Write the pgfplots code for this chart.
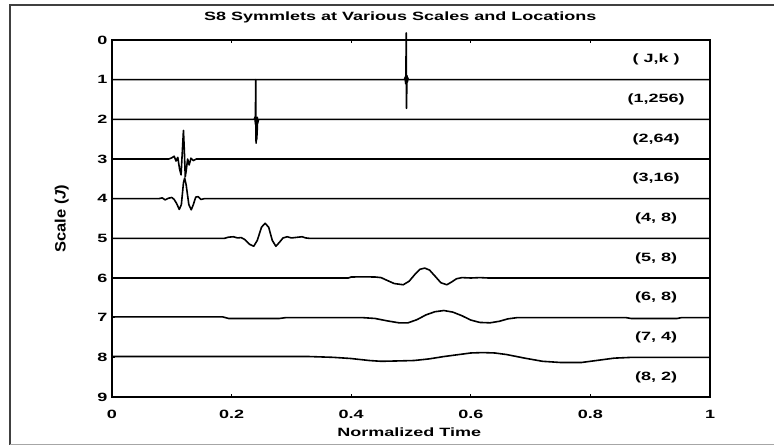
\documentclass[border=0pt]{standalone}
\usepackage{fontspec}
\setmainfont{Liberation Sans}[FakeStretch=1.5]
\newfontfamily\plainfont{Liberation Sans}[FakeStretch=1.1]
\usepackage{pgfplots}
\pgfplotsset{compat=1.18}
\usepackage{pgfplotstable}

% labels on the right, one per scale
\pgfplotstableread{
x y lab
0.91 0.5 {( J,k )}
0.91 1.5 {(1,256)}
0.91 2.5 {(2,64)}
0.91 3.5 {(3,16)}
0.91 4.5 {(4, 8)}
0.91 5.5 {(5, 8)}
0.91 6.5 {(6, 8)}
0.91 7.5 {(7, 4)}
0.91 8.5 {(8, 2)}
}\labtab

\begin{document}
\begin{tikzpicture}
\useasboundingbox (0pt,0pt) rectangle (774pt,447pt);
\draw[black!75, line width=1.3pt] (774pt,442pt) -- (10pt,442pt) -- (10pt,2pt);
\draw[black!35, line width=1pt] (10pt,2pt) -- (774pt,2pt);
\begin{axis}[
  at={(112pt,50pt)}, anchor=south west,
  scale only axis, width=598pt, height=357pt,
  xmin=0, xmax=1, ymin=0, ymax=9, y dir=reverse,
  xtick={0,0.2,0.4,0.6,0.8,1},
  ytick={0,1,2,3,4,5,6,7,8,9},
  tick align=inside, major tick length=3pt,
  tick style={black, line width=0.9pt},
  axis line style={line width=1.5pt},
  clip=false,
  /pgf/number format/assume math mode=true,
  tick label style={font=\fontsize{12}{14}\selectfont\bfseries},
  xticklabel style={anchor=base, yshift=-21pt},
  yticklabel style={xshift=-1pt},
  title={S8 Symmlets at Various Scales and Locations},
  title style={font=\fontsize{12}{14}\selectfont\bfseries, at={(axis description cs:0.482,1)}, anchor=base, yshift=14pt},
  xlabel={Normalized Time},
  xlabel style={font=\fontsize{12}{14}\selectfont\bfseries, at={(axis description cs:0.497,0)}, anchor=base, yshift=-39pt},
  ylabel={\plainfont\fontsize{15}{17}\selectfont\bfseries Scale ({\itshape J})},
  ylabel style={at={(axis description cs:-0.084,0.5)}, rotate=0, anchor=center},
]
% J = 1
\addplot[black, line width=1.6pt, line join=round] coordinates {
(0,1) (0.489,1) (0.4905,0.93) (0.491,1.1) (0.4915,0.86) (0.492,-0.18)
(0.4925,1.72) (0.493,1.12) (0.4935,0.9) (0.494,1.06) (0.4945,0.95) (0.4955,1) (1,1)};
% J = 2
\addplot[black, line width=1.6pt, line join=round] coordinates {
(0,2) (0.238,2) (0.2392,1.94) (0.2398,2.12) (0.2403,1.0) (0.2409,2.6)
(0.2412,2.05) (0.2415,2.55) (0.2418,2.0) (0.2421,2.5) (0.2424,2.05)
(0.2427,2.4) (0.2431,1.95) (0.2436,2.1) (0.245,2) (1,2)};
% J = 3
\addplot[black, line width=1.6pt, line join=round] coordinates {
(0,3) (0.095,3) (0.100,2.97) (0.104,2.93) (0.107,3.05) (0.110,2.96)
(0.113,3.25) (0.1155,3.4) (0.118,2.7) (0.1195,2.28) (0.121,2.8)
(0.1225,3.45) (0.124,3.3) (0.1265,3.0) (0.129,3.15) (0.132,2.98)
(0.136,3.04) (0.141,3.0) (0.146,3.0) (1,3)};
% J = 4
\addplot[black, line width=1.6pt, line join=round] coordinates {
(0,4) (0.078,4) (0.084,3.98) (0.089,4.03) (0.094,3.99) (0.100,3.97)
(0.104,4.02) (0.108,4.12) (0.1125,4.27) (0.116,4.15) (0.1195,3.6)
(0.1215,3.48) (0.124,3.65) (0.1285,4.15) (0.1325,4.28) (0.136,4.15)
(0.140,3.96) (0.144,3.95) (0.149,4.02) (0.154,4.0) (0.160,4.0) (1,4)};
% J = 5
\addplot[black, line width=1.6pt, line join=round] coordinates {
(0,5) (0.188,5) (0.195,4.97) (0.203,4.96) (0.210,4.99) (0.216,4.98)
(0.222,5.03) (0.230,5.15) (0.237,5.2) (0.243,5.05) (0.250,4.72)
(0.256,4.62) (0.262,4.72) (0.268,5.05) (0.274,5.2) (0.280,5.1)
(0.286,4.99) (0.293,4.96) (0.300,4.99) (0.306,4.98) (0.312,4.97)
(0.318,4.96) (0.324,4.99) (0.330,5.0) (1,5)};
% J = 6
\addplot[black, line width=1.6pt, line join=round] coordinates {
(0,6) (0.395,6) (0.400,5.975) (0.420,5.97) (0.440,5.975) (0.450,5.99)
(0.460,6.06) (0.472,6.14) (0.487,6.17) (0.497,6.08) (0.507,5.9)
(0.515,5.78) (0.523,5.75) (0.531,5.8) (0.540,5.95) (0.550,6.12)
(0.560,6.17) (0.568,6.1) (0.576,6.02) (0.585,5.99) (0.600,6.0)
(0.615,5.99) (0.630,6.0) (1,6)};
% J = 7
\addplot[black, line width=1.6pt, line join=round] coordinates {
(0,6.98) (0.185,6.98) (0.195,7.02) (0.280,7.02) (0.290,7.0) (0.420,7.0)
(0.440,7.02) (0.460,7.08) (0.480,7.13) (0.495,7.13) (0.510,7.05)
(0.525,6.93) (0.540,6.85) (0.555,6.82) (0.570,6.86) (0.585,6.95)
(0.600,7.06) (0.615,7.12) (0.632,7.13) (0.648,7.09) (0.662,7.03)
(0.677,7.0) (0.860,7.0) (0.868,7.02) (0.945,7.02) (0.952,7.0) (1,7.0)};
% J = 8
\addplot[black, line width=1.6pt, line join=round] coordinates {
(0,7.98) (0.330,7.98) (0.370,8.0) (0.400,8.03) (0.430,8.08) (0.450,8.1)
(0.480,8.09) (0.505,8.08) (0.530,8.04) (0.555,7.98) (0.580,7.93)
(0.600,7.89) (0.620,7.88) (0.640,7.89) (0.660,7.93) (0.690,8.02)
(0.720,8.1) (0.750,8.13) (0.785,8.13) (0.810,8.08) (0.840,8.02)
(0.870,8.0) (1,8.0)};
% (J,k) labels
\addplot[draw=none, mark=none, nodes near coords, point meta=explicit symbolic,
  nodes near coords style={font=\fontsize{12}{14}\selectfont\bfseries, anchor=center}]
  table[x=x, y=y, meta=lab] {\labtab};
\end{axis}
\end{tikzpicture}
\end{document}
